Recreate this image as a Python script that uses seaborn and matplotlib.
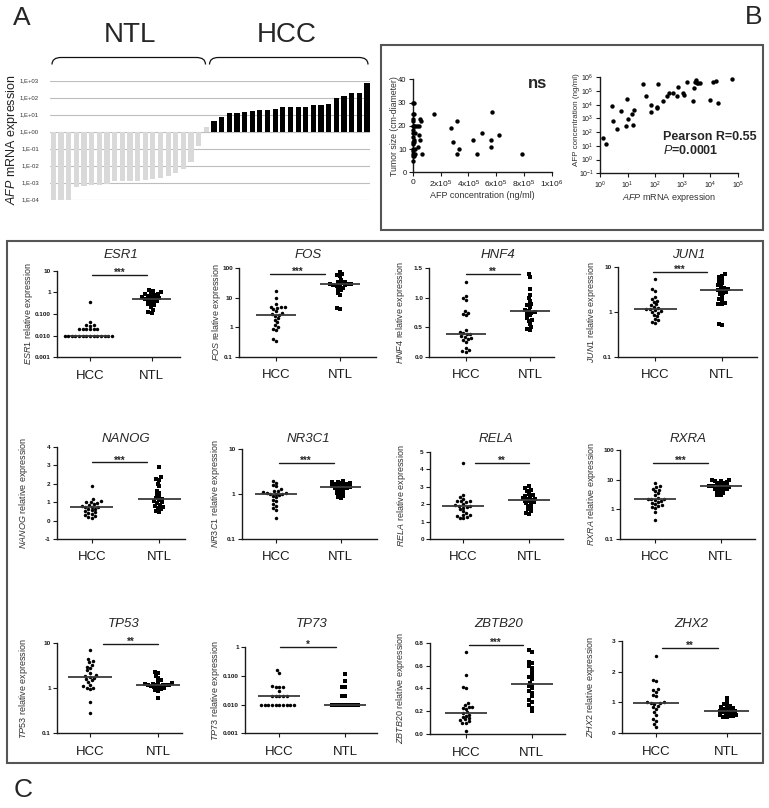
import numpy as np
import pandas as pd
import matplotlib
matplotlib.use("Agg")
import matplotlib.pyplot as plt
import matplotlib.transforms as mtransforms
from matplotlib.path import Path
from matplotlib.patches import PathPatch, Rectangle
from matplotlib.ticker import NullLocator
import seaborn as sns

# ---------------- data ----------------
# Panel A: AFP mRNA expression per sample
NTL_AFP = [1e-4, 1e-4, 1e-4, 5.6e-4, 6e-4, 7e-4, 7.5e-4, 8e-4, 1.2e-3, 1.2e-3, 1.2e-3,
           1.25e-3, 1.5e-3, 1.6e-3, 1.8e-3, 2.4e-3, 3.8e-3, 6e-3, 1.6e-2, 1.5e-1, 2.0]
HCC_AFP = [4.5, 7, 12, 12, 14, 17.5, 20, 20, 23, 28, 28, 28, 28, 38, 38, 42, 100, 130,
           190, 190, 740]
A_TICKS = ["1,E-04", "1,E-03", "1,E-02", "1,E-01", "1,E+00", "1,E+01", "1,E+02", "1,E+03"]

# Panel B left: AFP concentration vs tumour size
B1_AFP_CONC = [2e3, 12e3, 3e3, 8e3, 2e3, 2e3, 2e3, 10e3, 18e3, 30e3, 45e3, 5e3, 2e3, 20e3,
               2e3, 8e3, 50e3, 2e3, 10e3, 2e3, 35e3, 2e3, 15e3, 2e3, 5e3, 20e3, 70e3, 2e3,
               10e3, 2e3, 55e3, 62e3, 42e3,
               156e3, 276e3, 293e3, 321e3, 321e3, 336e3, 437e3, 465e3, 496e3, 568e3,
               561e3, 561e3, 623e3, 789e3]
B1_TUMOR = [30, 30, 25, 25, 23, 22, 20, 20, 20, 20, 20, 18, 17, 17,
            15, 14, 14, 13, 13, 12, 11, 10, 10, 9, 8, 8, 8, 7,
            7, 5, 23, 22, 16,
            25, 19, 13, 22, 8, 10, 14, 8, 17, 26,
            14, 11, 16, 8]

# Panel B right: AFP mRNA vs AFP concentration
B2_MRNA = [1.32, 1.6, 2.65, 2.9, 4.0, 5.6, 8.8, 9.8, 10.7, 14, 16, 17.6, 35, 47, 71, 71,
           130, 190, 114, 114, 280, 330, 440, 610, 700, 1060, 1120, 1420, 2450, 2600,
           2800, 3000, 3400, 3700, 4300, 9900, 13000, 16000, 18500, 64000]
B2_CONC = [35, 13, 8500, 650, 160, 3500, 280, 26000, 900, 2100, 350, 4200, 3.3e5, 44000,
           9600, 2800, 3.2e5, 19000, 7200, 5400, 44000, 68000, 68000, 44000, 2.1e5, 76000,
           52000, 4.8e5, 19000, 1.6e5, 4.8e5, 6.4e5, 4.1e5, 3.6e5, 3.6e5, 24000, 4.8e5,
           5.7e5, 14000, 7.5e5]

# Panel C: relative expression, HCC vs NTL
GENES = ["ESR1", "FOS", "HNF4", "JUN1", "NANOG", "NR3C1", "RELA", "RXRA",
         "TP53", "TP73", "ZBTB20", "ZHX2"]
STARS = ["***", "***", "**", "***", "***", "***", "**", "***", "**", "*", "***", "**"]
GROUPS = ["HCC", "NTL"]

ESR1_HCC = [0.35, 0.045, 0.031, 0.031, 0.029, 0.02, 0.02, 0.02, 0.02, 0.02, 0.02,
            0.01, 0.01, 0.01, 0.01, 0.01, 0.01, 0.01, 0.01, 0.01, 0.01, 0.01, 0.01, 0.01, 0.01]
ESR1_NTL = [1.3, 1.2, 1.0, 0.9, 0.8, 0.8, 0.75, 0.7, 0.65, 0.6, 0.55, 0.5, 0.5, 0.45,
            0.45, 0.4, 0.35, 0.3, 0.3, 0.25, 0.2, 0.15, 0.12, 0.11]
FOS_HCC = [17, 10, 6, 5, 5, 4.8, 4.5, 4.2, 3.5, 3, 2.8, 2.6, 2.4, 2, 1.8, 1.5, 1.2, 1.0,
           0.9, 0.8, 0.4, 0.35]
FOS_NTL = [75, 65, 60, 55, 40, 35, 33, 31, 30, 30, 29, 28, 27, 26, 25, 22, 20, 18, 15,
           12, 4.5, 4]
HNF4_HCC = [1.27, 1.03, 1.0, 0.97, 0.78, 0.75, 0.72, 0.7, 0.45, 0.42, 0.4, 0.39, 0.38,
            0.35, 0.33, 0.32, 0.3, 0.28, 0.25, 0.15, 0.12, 0.09, 0.08]
HNF4_NTL = [1.4, 1.35, 1.15, 1.05, 1.0, 0.95, 0.9, 0.88, 0.85, 0.8, 0.78, 0.76, 0.75,
            0.73, 0.7, 0.65, 0.62, 0.6, 0.55, 0.5, 0.47, 0.45]
JUN1_HCC = [5.5, 3.2, 3.0, 2.2, 2.0, 1.8, 1.7, 1.5, 1.4, 1.3, 1.2, 1.15, 1.15, 1.1, 1.05,
            1.0, 0.95, 0.85, 0.8, 0.7, 0.65, 0.6, 0.58]
JUN1_NTL = [7, 6.5, 6, 5.5, 5, 4.5, 4, 3.8, 3.5, 3.2, 3.1, 3.1, 2.8, 2.6, 2.5, 2.2, 2,
            1.8, 1.6, 1.5, 1.5, 0.55, 0.52]
NANOG_HCC = [1.85, 1.15, 1.05, 1.0, 1.0, 0.95, 0.9, 0.85, 0.8, 0.75, 0.72, 0.72, 0.65,
             0.6, 0.55, 0.5, 0.45, 0.4, 0.35, 0.3, 0.25, 0.2, 0.15]
NANOG_NTL = [2.9, 2.35, 2.25, 2.2, 2.0, 1.85, 1.6, 1.5, 1.4, 1.3, 1.2, 1.17, 1.1, 1.05,
             1.0, 0.95, 0.85, 0.8, 0.75, 0.7, 0.6, 0.5, 0.45]
NR3C1_HCC = [2.0, 1.8, 1.6, 1.5, 1.3, 1.2, 1.15, 1.1, 1.05, 1.04, 1.03, 1.03, 1.0, 0.95,
             0.9, 0.85, 0.75, 0.7, 0.6, 0.55, 0.5, 0.45, 0.3]
NR3C1_NTL = [1.95, 1.9, 1.85, 1.8, 1.75, 1.7, 1.65, 1.6, 1.55, 1.5, 1.45, 1.45, 1.4,
             1.35, 1.3, 1.25, 1.2, 1.1, 1.05, 1.0, 0.9, 0.85, 0.8]
RELA_HCC = [4.35, 2.5, 2.4, 2.3, 2.2, 2.2, 2.15, 2.1, 2.0, 1.95, 1.9, 1.88, 1.85, 1.8,
            1.7, 1.6, 1.5, 1.4, 1.35, 1.3, 1.25, 1.2, 1.2]
RELA_NTL = [3.05, 2.9, 2.8, 2.75, 2.6, 2.5, 2.45, 2.4, 2.35, 2.3, 2.28, 2.25, 2.2, 2.15,
            2.1, 2.05, 2.0, 1.9, 1.8, 1.7, 1.6, 1.5, 1.45]
RXRA_HCC = [7.5, 6, 5.5, 5, 4.5, 4, 3.5, 3, 2.5, 2.3, 2.25, 2.2, 2.1, 1.9, 1.8, 1.6, 1.5,
            1.4, 1.3, 1.2, 1.1, 0.8, 0.45]
RXRA_NTL = [10, 9.5, 9, 9, 8.5, 8, 7.5, 7, 6.5, 6.2, 6.1, 6, 5.8, 5.5, 5.2, 5, 4.8, 4.5,
            4.2, 4, 3.5, 3, 3]
TP53_HCC = [7, 4.5, 4, 3.8, 3.3, 3, 2.8, 2.5, 2.2, 2.0, 1.9, 1.8, 1.7, 1.6, 1.5, 1.4,
            1.2, 1.1, 1.0, 1.0, 0.95, 0.5, 0.28]
TP53_NTL = [2.3, 2.2, 1.9, 1.7, 1.5, 1.4, 1.3, 1.25, 1.25, 1.2, 1.2, 1.2, 1.2, 1.2, 1.15,
            1.1, 1.05, 1.0, 1.0, 0.95, 0.9, 0.85, 0.6]
TP73_HCC = [0.16, 0.13, 0.045, 0.04, 0.04, 0.04, 0.03, 0.02, 0.02, 0.02, 0.02, 0.02,
            0.01, 0.01, 0.01, 0.01, 0.01, 0.01, 0.01, 0.01, 0.01, 0.01]
TP73_NTL = [0.12, 0.065, 0.04, 0.04, 0.02, 0.02, 0.01, 0.01, 0.01, 0.01, 0.01, 0.01,
            0.01, 0.01, 0.01]
ZBTB20_HCC = [0.72, 0.52, 0.41, 0.4, 0.27, 0.25, 0.24, 0.24, 0.23, 0.22, 0.19, 0.18,
              0.17, 0.16, 0.15, 0.14, 0.13, 0.12, 0.11, 0.1, 0.1, 0.03]
ZBTB20_NTL = [0.74, 0.72, 0.63, 0.62, 0.6, 0.58, 0.55, 0.52, 0.5, 0.48, 0.45, 0.43, 0.42,
              0.4, 0.38, 0.36, 0.33, 0.3, 0.28, 0.25, 0.23, 0.2]
ZHX2_HCC = [2.52, 1.72, 1.68, 1.45, 1.4, 1.35, 1.25, 1.2, 1.02, 1.0, 0.98, 0.98, 0.95,
            0.9, 0.85, 0.8, 0.7, 0.6, 0.45, 0.4, 0.3, 0.2]
ZHX2_NTL = [1.15, 1.0, 0.95, 0.9, 0.88, 0.85, 0.82, 0.8, 0.78, 0.75, 0.72, 0.72, 0.7,
            0.68, 0.65, 0.62, 0.6, 0.58, 0.55, 0.55, 0.53, 0.52]

C_DATA = {
    "ESR1": (ESR1_HCC, ESR1_NTL), "FOS": (FOS_HCC, FOS_NTL), "HNF4": (HNF4_HCC, HNF4_NTL),
    "JUN1": (JUN1_HCC, JUN1_NTL), "NANOG": (NANOG_HCC, NANOG_NTL),
    "NR3C1": (NR3C1_HCC, NR3C1_NTL), "RELA": (RELA_HCC, RELA_NTL),
    "RXRA": (RXRA_HCC, RXRA_NTL), "TP53": (TP53_HCC, TP53_NTL), "TP73": (TP73_HCC, TP73_NTL),
    "ZBTB20": (ZBTB20_HCC, ZBTB20_NTL), "ZHX2": (ZHX2_HCC, ZHX2_NTL),
}

# y-axis definitions (scale, limits, ticks, tick labels)
C_AXES = {
    "ESR1": ("log", (0.001, 10), [0.001, 0.01, 0.1, 1, 10], ["0.001", "0.010", "0.100", "1", "10"]),
    "FOS": ("log", (0.1, 100), [0.1, 1, 10, 100], ["0.1", "1", "10", "100"]),
    "HNF4": ("linear", (0, 1.5), [0, 0.5, 1.0, 1.5], ["0.0", "0.5", "1.0", "1.5"]),
    "JUN1": ("log", (0.1, 10), [0.1, 1, 10], ["0.1", "1", "10"]),
    "NANOG": ("linear", (-1, 4), [-1, 0, 1, 2, 3, 4], ["-1", "0", "1", "2", "3", "4"]),
    "NR3C1": ("log", (0.1, 10), [0.1, 1, 10], ["0.1", "1", "10"]),
    "RELA": ("linear", (0, 5), [0, 1, 2, 3, 4, 5], ["0", "1", "2", "3", "4", "5"]),
    "RXRA": ("log", (0.1, 100), [0.1, 1, 10, 100], ["0.1", "1", "10", "100"]),
    "TP53": ("log", (0.1, 10), [0.1, 1, 10], ["0.1", "1", "10"]),
    "TP73": ("log", (0.001, 1), [0.001, 0.01, 0.1, 1], ["0.001", "0.010", "0.100", "1"]),
    "ZBTB20": ("linear", (0, 0.8), [0, 0.2, 0.4, 0.6, 0.8], ["0.0", "0.2", "0.4", "0.6", "0.8"]),
    "ZHX2": ("linear", (0, 3), [0, 1, 2, 3], ["0", "1", "2", "3"]),
}

# ---------------- layout (pixels) ----------------
# left, right, top, bottom, HCC x, NTL x, sig-bar y (axes frac), bar x0, bar x1, ylabel dx
C_LAYOUT = {
    "ESR1": (57.3, 180, 270.7, 357.3, 90, 151.7, 0.95, 0.03, 0.92, -27),
    "FOS": (239.3, 376, 268.3, 356.7, 276, 340, 0.935, -0.1, 0.77, -21),
    "HNF4": (429.3, 554, 268.3, 356.7, 466, 530, 0.935, 0.0, 0.85, -27),
    "JUN1": (618.3, 756.7, 267.3, 356.7, 655.3, 721.7, 0.95, -0.04, 0.78, -25),
    "NANOG": (56.7, 185, 446.7, 539, 91.7, 159.3, 0.83, 0.0, 0.82, -31),
    "NR3C1": (241.7, 376.7, 449.3, 539, 276, 340.7, 0.85, 0.04, 0.89, -24),
    "RELA": (430, 562.7, 451.7, 539, 463.3, 529.3, 0.874, 0.18, 1.0, -27),
    "RXRA": (620, 755, 450, 539, 655.3, 720.7, 0.857, -0.04, 0.81, -27),
    "TP53": (57.3, 181.7, 643.3, 733.3, 90, 158.3, 0.99, 0.19, 1.0, -32),
    "TP73": (245, 376.7, 647.3, 733.3, 279.3, 345, 1.0, 0.01, 0.86, -27),
    "ZBTB20": (430, 565, 642.7, 734, 466, 531.7, 0.975, 0.04, 0.87, -28),
    "ZHX2": (621.7, 760, 640.7, 733.3, 656, 726.7, 0.92, 0.08, 0.87, -29),
}
ROW_TITLE_Y = [255, 439, 624]

W, H = 769, 808
sns.set_theme(style="white")
plt.rcParams["font.family"] = ["Liberation Sans", "DejaVu Sans"]
plt.rcParams["mathtext.fontset"] = "custom"
plt.rcParams["mathtext.rm"] = "Liberation Sans"
plt.rcParams["mathtext.it"] = "Liberation Sans:italic"
plt.rcParams["mathtext.bf"] = "Liberation Sans:bold"

fig = plt.figure(figsize=(W / 100, H / 100), dpi=100)


def px_ax(l, t, r, b):
    return fig.add_axes([l / W, 1 - b / H, (r - l) / W, (b - t) / H])


def prism_style(ax):
    for s in ["top", "right"]:
        ax.spines[s].set_visible(False)
    for s in ["left", "bottom"]:
        ax.spines[s].set_color("#1a1a1a")
        ax.spines[s].set_linewidth(1.0)
    ax.tick_params(direction="out", length=3, width=0.8, colors="#1a1a1a", pad=1.5)
    ax.tick_params(bottom=True, left=True)
    ax.xaxis.set_minor_locator(NullLocator())
    ax.yaxis.set_minor_locator(NullLocator())


# ---------------- Panel A ----------------
dfA = pd.DataFrame({
    "idx": np.arange(len(NTL_AFP) + len(HCC_AFP)),
    "val": NTL_AFP + HCC_AFP,
    "group": ["NTL"] * len(NTL_AFP) + ["HCC"] * len(HCC_AFP),
})
dfA["log"] = np.log10(dfA["val"])
axA = px_ax(50, 80.7, 370, 199.5)
sns.barplot(data=dfA, x="idx", y="log", hue="group", palette={"NTL": "#d9d9d9", "HCC": "#000000"},
            dodge=False, width=0.68, saturation=1, linewidth=0, legend=False, ax=axA)
axA.set_xlim(-0.45, len(dfA) - 0.6)
axA.set_ylim(-4, 3)
axA.set_yticks(np.arange(-4, 4), A_TICKS, fontsize=4.3, color="#333333")
axA.set_xticks([])
axA.tick_params(axis="y", length=0, pad=8)
axA.yaxis.grid(True, color="#bdbdbd", linewidth=0.8)
axA.set_axisbelow(True)
for s in axA.spines.values():
    s.set_visible(False)
axA.set_xlabel("")
axA.set_ylabel(r"$\it{AFP}$ mRNA expression", fontsize=9, color="#222222")
axA.yaxis.set_label_coords(-30 / 320, 0.5)

# ---------------- Panel B ----------------
ax1 = px_ax(412.7, 79.3, 551.7, 172.3)
sns.scatterplot(x=B1_AFP_CONC, y=B1_TUMOR, color="black", s=10, linewidth=0, ax=ax1,
                clip_on=False, zorder=3)
ax1.set_xlim(0, 1e6)
ax1.set_ylim(0, 40)
prism_style(ax1)
ax1.set_xticks([0, 2e5, 4e5, 6e5, 8e5, 1e6],
               ["0", r"2x10$^5$", r"4x10$^5$", r"6x10$^5$", r"8x10$^5$", r"1x10$^6$"], fontsize=6)
ax1.set_yticks([0, 10, 20, 30, 40], ["0", "10", "20", "30", "40"], fontsize=5.5)
ax1.set_xlabel("AFP concentration (ng/ml)", fontsize=6.5, color="#333333")
ax1.set_ylabel("Tumor size (cm-diameter)", fontsize=6.3, color="#333333")
ax1.xaxis.set_label_coords(0.5, -18.5 / 93)
ax1.yaxis.set_label_coords(-14 / 139, 0.5)
ax1.text(0.9, 0.96, "ns", transform=ax1.transAxes, fontsize=12, fontweight="bold",
         ha="center", va="center")

ax2 = px_ax(600, 77.3, 737.7, 173.3)
ax2.set_xscale("log")
ax2.set_yscale("log")
sns.scatterplot(x=B2_MRNA, y=B2_CONC, color="black", s=10, linewidth=0, ax=ax2, zorder=3)
ax2.set_xlim(1, 1e5)
ax2.set_ylim(0.1, 1e6)
prism_style(ax2)
ax2.set_xticks([10.0 ** k for k in range(0, 6)], [rf"10$^{{{k}}}$" for k in range(0, 6)], fontsize=5)
ax2.set_yticks([10.0 ** k for k in range(-1, 7)], [rf"10$^{{{k}}}$" for k in range(-1, 7)], fontsize=5)
ax2.xaxis.set_minor_locator(NullLocator())
ax2.yaxis.set_minor_locator(NullLocator())
ax2.set_xlabel(r"$\it{AFP}$ mRNA expression", fontsize=6.5, color="#333333")
ax2.set_ylabel("AFP concentration (ng/ml)", fontsize=5.8, color="#333333")
ax2.xaxis.set_label_coords(0.5, -17.5 / 96)
ax2.yaxis.set_label_coords(-20 / 137.7, 0.56)
ax2.text(63 / 137.7, 0.38, "Pearson R=0.55", transform=ax2.transAxes, fontsize=9,
         fontweight="bold", ha="left", va="center")
ax2.text(63 / 137.7, 0.24, r"$\bf{\it{P}}$=0.0001", transform=ax2.transAxes, fontsize=9,
         fontweight="bold", ha="left", va="center")

# ---------------- Panel C ----------------
for gi, gene in enumerate(GENES):
    l, r, t, b, xh, xn, bar_y, bx0, bx1, ldx = C_LAYOUT[gene]
    scale, ylim, yt, ytl = C_AXES[gene]
    hcc, ntl = C_DATA[gene]
    ax = px_ax(l, t, r, b)
    ax.set_yscale(scale)
    ax.set_ylim(*ylim)
    df = pd.DataFrame({"group": ["HCC"] * len(hcc) + ["NTL"] * len(ntl), "value": hcc + ntl})
    sns.swarmplot(data=df[df.group == "HCC"], x="group", y="value", order=GROUPS, color="black",
                  size=2.5, marker="o", linewidth=0, warn_thresh=1, ax=ax)
    sns.swarmplot(data=df[df.group == "NTL"], x="group", y="value", order=GROUPS, color="black",
                  size=2.3, marker="s", linewidth=0, warn_thresh=1, ax=ax)
    meds = df.groupby("group")["value"].median()
    for i, g in enumerate(GROUPS):
        ax.hlines(meds[g], i - 0.32, i + 0.32, color="#3a3a3a", linewidth=1.3, zorder=4)
    unit = xn - xh
    ax.set_xlim(-(xh - l) / unit, 1 + (r - xn) / unit)
    ax.set_ylim(*ylim)
    prism_style(ax)
    ax.set_yticks(yt, ytl, fontsize=4.6, fontweight="bold")
    ax.yaxis.set_minor_locator(NullLocator())
    ax.set_xticks([0, 1], GROUPS, fontsize=9.5)
    ax.tick_params(axis="x", pad=6)
    ax.set_xlabel("")
    ax.set_ylabel(rf"$\it{{{gene}}}$ relative expression", fontsize=6.5, color="#333333")
    ax.yaxis.set_label_coords((ldx + 4.5) / (r - l), 0.5)
    tr = mtransforms.blended_transform_factory(ax.transData, ax.transAxes)
    ax.plot([bx0, bx1], [bar_y, bar_y], color="#1a1a1a", linewidth=1.0, transform=tr,
            clip_on=False)
    ax.text((bx0 + bx1) / 2, bar_y + 2.0 / (b - t), STARS[gi], transform=tr, fontsize=7,
            fontweight="bold", ha="center", va="center")
    # title
    row = gi // 4
    ty = 1 + (t - ROW_TITLE_Y[row]) / (b - t)
    ax.text(0.5, ty, gene, transform=tr, fontsize=9.5, fontstyle="italic", ha="center",
            va="center")

# ---------------- overlay: letters, braces, boxes ----------------
ov = fig.add_axes([0, 0, 1, 1], zorder=10)
ov.set_xlim(0, W)
ov.set_ylim(H, 0)
ov.axis("off")
ov.patch.set_alpha(0)

ov.text(22, 18, "A", fontsize=19, ha="center", va="center")
ov.text(754, 17, "B", fontsize=19, ha="center", va="center")
ov.text(23, 790, "C", fontsize=19, ha="center", va="center")
ov.text(130, 35, "NTL", fontsize=20, ha="center", va="center")
ov.text(287, 35, "HCC", fontsize=20, ha="center", va="center")


def brace(x0, x1, ytop=57.5, yend=64.5, rad=9):
    verts = [(x0, yend), (x0, ytop), (x0 + rad, ytop), (x1 - rad, ytop), (x1, ytop), (x1, yend)]
    codes = [Path.MOVETO, Path.CURVE3, Path.CURVE3, Path.LINETO, Path.CURVE3, Path.CURVE3]
    ov.add_patch(PathPatch(Path(verts, codes), fill=False, lw=0.9, color="#111111"))


brace(52, 205.5)
brace(209.5, 368)

ov.add_patch(Rectangle((381, 45), 382, 185, fill=False, lw=1.5, edgecolor="#555555"))
ov.add_patch(Rectangle((7, 241), 756, 522, fill=False, lw=1.5, edgecolor="#555555"))

fig.savefig("out.png", dpi=100)
